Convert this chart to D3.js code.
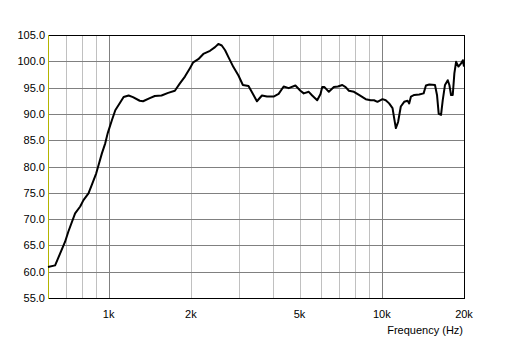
<!DOCTYPE html>
<html>
<head>
<meta charset="utf-8">
<script src="https://cdn.jsdelivr.net/npm/d3@7"></script>
<style>
  body { margin: 0; background: #fff; }
  text { font-family: "Liberation Sans", Arial, sans-serif; font-size: 11px; fill: #000; }
</style>
</head>
<body>
<script>
const w = 512, h = 340;

// response trace
const freqs = [600, 637, 649, 693, 712, 754, 787, 809, 844, 868, 901, 919, 945, 972, 992,
  1028, 1058, 1104, 1135, 1184, 1228, 1300, 1337, 1415, 1476, 1562, 1652, 1748, 1824, 1903,
  1985, 2041, 2130, 2222, 2351, 2453, 2522, 2596, 2670, 2746, 2864, 2988, 3101, 3252, 3392,
  3491, 3642, 3800, 4018, 4192, 4374, 4563, 4829, 5038, 5181, 5405, 5563, 5803, 5968, 6053,
  6171, 6401, 6678, 6908, 7170, 7373, 7582, 7910, 8252, 8735, 9112, 9369, 9643, 10060, 10340,
  10640, 10950, 11100, 11260, 11480, 11740, 12080, 12430, 12600, 12790, 13150, 13710, 14230, 14510, 14930,
  15660, 15930, 16160, 16480, 16720, 17040, 17440, 17680, 17930, 18190, 18440, 18710, 19080, 19520, 19810, 20000];
const spl = [60.9, 61.2, 62.2, 65.7, 67.6, 71.1, 72.4, 73.6, 74.9, 76.5, 78.7, 80.3, 82.5, 84.4, 86.3,
  88.8, 90.7, 92.2, 93.2, 93.5, 93.2, 92.5, 92.4, 93.0, 93.4, 93.5, 94.0, 94.4, 95.8, 97.1,
  98.7, 99.8, 100.4, 101.4, 102.0, 102.7, 103.3, 103.0, 102.1, 100.8, 98.9, 97.3, 95.5, 95.3, 93.6,
  92.4, 93.5, 93.3, 93.3, 93.8, 95.2, 94.9, 95.4, 94.4, 93.9, 94.2, 93.5, 92.6, 93.8, 95.1,
  95.1, 94.2, 95.1, 95.2, 95.5, 95.1, 94.4, 94.2, 93.6, 92.8, 92.6, 92.6, 92.3, 92.8, 92.6,
  92.0, 91.1, 89.2, 87.3, 88.5, 91.4, 92.3, 92.5, 92.0, 93.3, 93.6, 93.7, 93.9, 95.4, 95.6,
  95.5, 93.6, 90.0, 89.8, 92.6, 95.5, 96.4, 95.5, 93.6, 93.6, 97.7, 99.9, 99.0, 99.6, 100.2, 99.0];

const yTicks = [55, 60, 65, 70, 75, 80, 85, 90, 95, 100, 105];
const xLabels = [1000, 2000, 5000, 10000, 20000];
const xGrid = [700, 800, 900, 1000, 2000, 3000, 4000, 5000, 6000, 7000, 8000, 9000, 10000];

const pLeft = 48, pRight = 464, pTop = 35, pBottom = 298;

const svg = d3.select('body').append('svg')
  .attr('width', w)
  .attr('height', h);

const x = d3.scaleLog().domain([600, 20000]).range([pLeft, pRight]);
const y = d3.scaleLinear().domain([55, 105]).range([pBottom, pTop]);

// grid
svg.append('g')
  .selectAll('line')
  .data(xGrid)
  .enter()
  .append('line')
  .attr('x1', d => Math.round(x(d)) + 0.5)
  .attr('x2', d => Math.round(x(d)) + 0.5)
  .attr('y1', pTop)
  .attr('y2', pBottom)
  .attr('stroke', d => (d === 1000 || d === 10000) ? '#808080' : '#c0c0c0');

svg.append('g')
  .selectAll('line')
  .data(yTicks)
  .enter()
  .append('line')
  .attr('x1', pLeft)
  .attr('x2', pRight)
  .attr('y1', d => Math.round(y(d)) + 0.5)
  .attr('y2', d => Math.round(y(d)) + 0.5)
  .attr('stroke', '#808080');

// frame
svg.append('rect')
  .attr('x', pLeft + 0.5).attr('y', pTop + 0.5)
  .attr('width', pRight - pLeft).attr('height', pBottom - pTop)
  .attr('fill', 'none').attr('stroke', '#000');
svg.append('line')
  .attr('x1', pLeft + 0.5).attr('x2', pLeft + 0.5)
  .attr('y1', pTop).attr('y2', pBottom + 1)
  .attr('stroke', '#b4b400');

// curve
const line = d3.line()
  .x((d, i) => x(freqs[i]))
  .y(d => y(d));

svg.append('path')
  .datum(spl)
  .attr('d', line)
  .attr('fill', 'none')
  .attr('stroke', '#000')
  .attr('stroke-width', 2)
  .attr('stroke-linejoin', 'round');

// y labels
svg.append('g')
  .selectAll('text')
  .data(yTicks)
  .enter()
  .append('text')
  .attr('x', 45)
  .attr('y', d => y(d) + 4)
  .attr('text-anchor', 'end')
  .text(d => d.toFixed(1));

// x labels
svg.append('g')
  .selectAll('text')
  .data(xLabels)
  .enter()
  .append('text')
  .attr('x', d => x(d))
  .attr('y', 318)
  .attr('text-anchor', 'middle')
  .text(d => (d / 1000) + 'k');

svg.append('text')
  .attr('x', 463)
  .attr('y', 334)
  .attr('text-anchor', 'end')
  .text('Frequency (Hz)');
</script>
</body>
</html>
